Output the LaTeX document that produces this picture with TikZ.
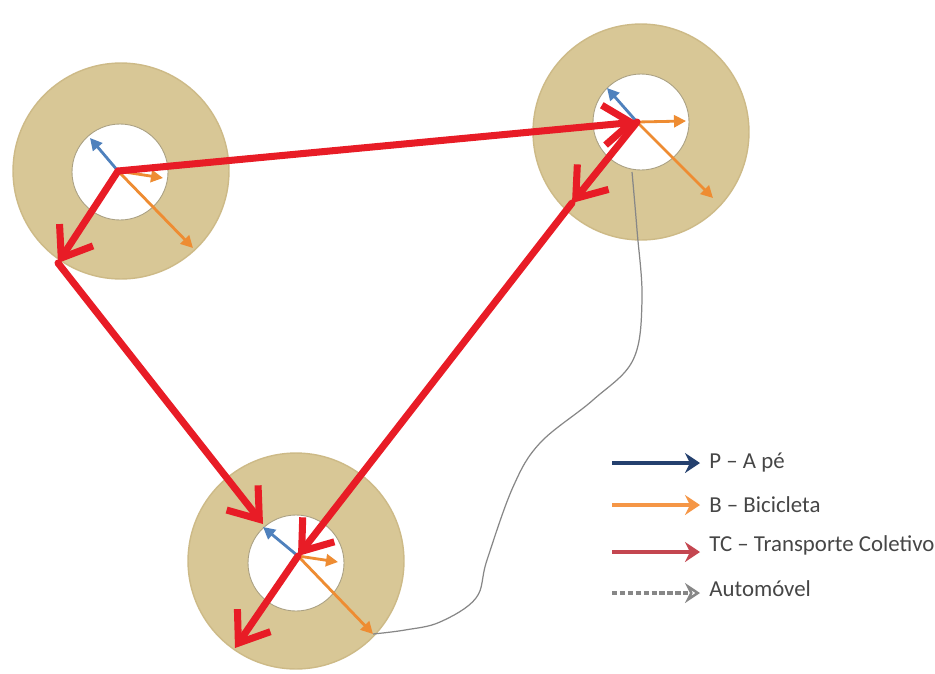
\documentclass[tikz,border=0pt]{standalone}
\usepackage{fontspec}
\setmainfont{Carlito}
\usepackage{tikz}
\usetikzlibrary{arrows.meta}
\definecolor{zonetan}{RGB}{216,199,150}
\definecolor{zoneedge}{RGB}{205,186,135}
\definecolor{coreedge}{RGB}{170,160,130}
\definecolor{tcred}{RGB}{232,28,38}
\definecolor{pblue}{RGB}{79,129,189}
\definecolor{bikeorange}{RGB}{238,140,50}
\definecolor{legblue}{RGB}{36,64,110}
\definecolor{legorange}{RGB}{245,150,70}
\definecolor{legred}{RGB}{196,70,80}
\definecolor{autogray}{RGB}{135,135,135}
\definecolor{legtext}{RGB}{70,70,70}
\tikzset{
    zone/.style={circle, draw=zoneedge, fill=zonetan, line width=0.8pt,
                 minimum size=4.32cm, inner sep=0pt},
    core/.style={circle, draw=coreedge, fill=white, line width=0.5pt,
                 minimum size=1.92cm, inner sep=0pt},
    tc/.style={-{Straight Barb[length=5.5mm,width=8mm]}, line width=4pt,
               tcred, line cap=round, line join=round},
    pe/.style={-{Triangle[length=2.4mm,width=2.4mm]}, line width=1.6pt, pblue},
    bike/.style={-{Triangle[length=2.4mm,width=2.4mm]}, line width=1.6pt, bikeorange},
    autoline/.style={autogray, line width=0.7pt},
    legarr/.style={-{Stealth[length=3mm,width=4mm]}, line width=2.4pt, #1},
    leg/.style={anchor=west, font=\fontsize{13}{15}\selectfont, text=legtext,
                inner sep=0pt},
}

\begin{document}
\begin{tikzpicture}[x=0.02cm, y=-0.02cm]
    \useasboundingbox (0,0) rectangle (935,673);

    % zones
    \node[zone] (za) at (121,171) {};
    \node[zone] (zb) at (641,132) {};
    \node[zone] (zc) at (296,561) {};
    \node[core] (ca) at (120,172) {};
    \node[core] (cb) at (641,122) {};
    \node[core] (cc) at (296,563) {};

    % hubs and arrow ends
    \coordinate (ha) at (118,171);
    \coordinate (hb) at (637,122);
    \coordinate (hc) at (298,556);
    \coordinate (pa) at (90,138);
    \coordinate (pb) at (607,88);
    \coordinate (pc) at (263,527);
    \coordinate (ba1) at (163,178);
    \coordinate (ba2) at (193,248);
    \coordinate (bb1) at (686,121);
    \coordinate (bb2) at (713,198);
    \coordinate (bc1) at (338,562);
    \coordinate (bc2) at (373,634);
    \coordinate (ka) at (58,263);
    \coordinate (kb) at (572,203);
    \coordinate (kc) at (235,648);
    \coordinate (ta) at (263,524);
    \coordinate (cbot) at (632,172);

    \draw[pe] (ha) -- (pa);
    \draw[pe] (hb) -- (pb);
    \draw[pe] (hc) -- (pc);
    \draw[bike] (ha) -- (ba1);
    \draw[bike] (ha) -- (ba2);
    \draw[bike] (hb) -- (bb1);
    \draw[bike] (hb) -- (bb2);
    \draw[bike] (hc) -- (bc1);
    \draw[bike] (hc) -- (bc2);

    % car route
    \draw[autoline] plot[smooth, tension=0.6] coordinates {(bc2) (405,630)
        (440,622) (476,598) (487,560) (513,487) (540,443) (593,400)
        (633,360) (642,300) (637,230) (cbot)};

    % public transport
    \draw[tc] (ha) -- (hb);
    \draw[tc] (ha) -- (ka);
    \draw[tc] (ka) -- (ta);
    \draw[tc] (hb) -- (kb);
    \draw[tc] (kb) -- (hc);
    \draw[tc] (hc) -- (kc);

    % legend
    \node[leg] (lp) at (709,463) {P – A pé};
    \node[leg] (lb) at (709,505) {B – Bicicleta};
    \node[leg] (lt) at (709,545) {TC – Transporte Coletivo};
    \node[leg] (la) at (709,589) {Automóvel};
    \coordinate (lp0) at (612,463);  \coordinate (lp1) at (700,463);
    \coordinate (lb0) at (612,505);  \coordinate (lb1) at (700,505);
    \coordinate (lt0) at (612,552);  \coordinate (lt1) at (700,552);
    \coordinate (la0) at (612,593);  \coordinate (la1) at (700,593);
    \draw[legarr=legblue] (lp0) -- (lp1);
    \draw[legarr=legorange] (lb0) -- (lb1);
    \draw[legarr=legred] (lt0) -- (lt1);
    \draw[-{Stealth[open,length=3mm,width=4mm]}, line width=2pt, autogray,
          dash pattern=on 3pt off 1.5pt] (la0) -- (la1);
\end{tikzpicture}
\end{document}
